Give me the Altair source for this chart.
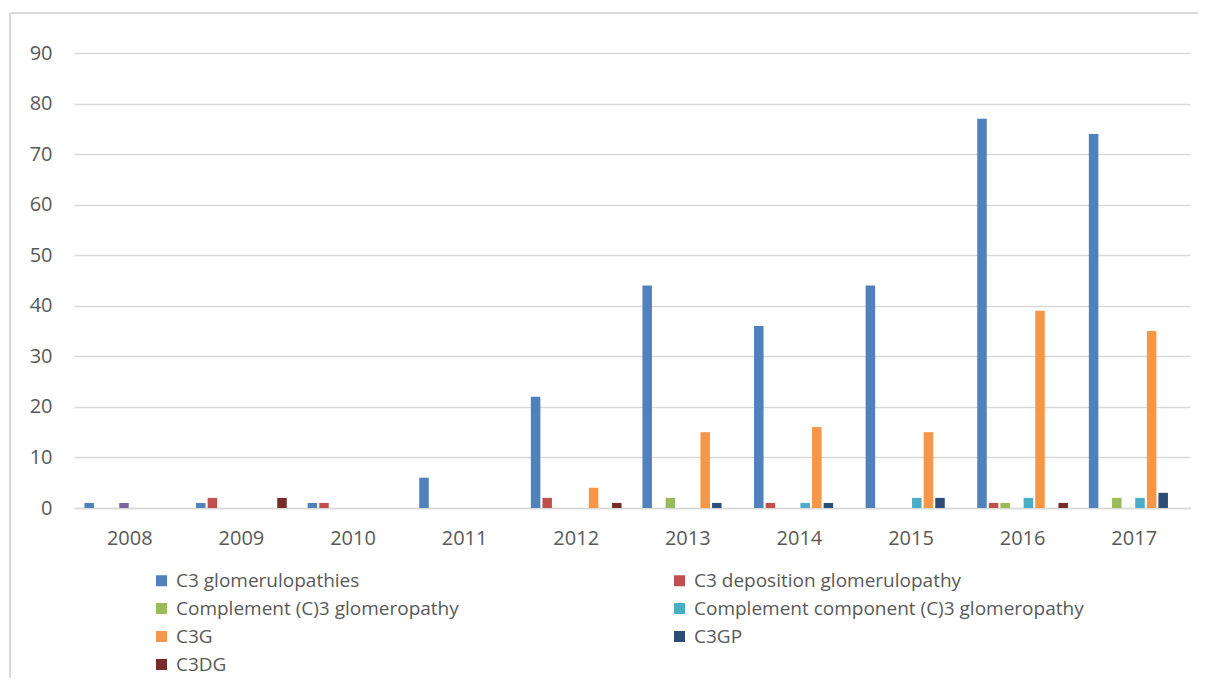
import altair as alt
import pandas as pd

years = ["2008", "2009", "2010", "2011", "2012", "2013", "2014", "2015", "2016", "2017"]

series_names = [
    "C3 glomerulopathies",
    "C3 deposition glomerulopathy",
    "Complement (C)3 glomeropathy",
    "Other",
    "Complement component (C)3 glomeropathy",
    "C3G",
    "C3GP",
    "C3DG",
]
series_colors = ["#4F81BD", "#C0504D", "#9BBB59", "#8064A2", "#4BACC6", "#F79646", "#2C4D75", "#772C2A"]

c3_glomerulopathies = [1, 1, 1, 6, 22, 44, 36, 44, 77, 74]
c3_deposition = [0, 2, 1, 0, 2, 0, 1, 0, 1, 0]
complement_c3 = [0, 0, 0, 0, 0, 2, 0, 0, 1, 2]
other = [1, 0, 0, 0, 0, 0, 0, 0, 0, 0]
complement_component_c3 = [0, 0, 0, 0, 0, 0, 1, 2, 2, 2]
c3g = [0, 0, 0, 0, 4, 15, 16, 15, 39, 35]
c3gp = [0, 0, 0, 0, 0, 1, 1, 2, 0, 3]
c3dg = [0, 2, 0, 0, 1, 0, 0, 0, 1, 0]

all_values = [c3_glomerulopathies, c3_deposition, complement_c3, other,
              complement_component_c3, c3g, c3gp, c3dg]

rows = []
for name, vals in zip(series_names, all_values):
    for y, v in zip(years, vals):
        if v > 0:
            rows.append({"year": y, "series": name, "value": v})
df = pd.DataFrame(rows)

legend_names = [n for n in series_names if n != "Other"]

FONT = "Open Sans"
TXT = "#595959"
GRID = "#D9D9D9"

bars = alt.Chart(df).mark_bar().encode(
    x=alt.X("year:N", sort=years,
            scale=alt.Scale(domain=years, paddingInner=0, paddingOuter=0),
            axis=alt.Axis(title=None, labelAngle=0, ticks=False, domainColor=GRID,
                          domainWidth=1.5, labelPadding=20, labelFontSize=20,
                          labelColor=TXT, labelFont=FONT)),
    xOffset=alt.XOffset("series:N",
                        scale=alt.Scale(domain=series_names, paddingInner=0.18, paddingOuter=0.9)),
    y=alt.Y("value:Q",
            scale=alt.Scale(domain=[0, 90], nice=False),
            axis=alt.Axis(title=None, values=list(range(0, 91, 10)), ticks=False, domain=False,
                          gridColor=GRID, gridWidth=1.5, labelPadding=22, labelFontSize=20,
                          labelColor=TXT, labelFont=FONT)),
    color=alt.Color("series:N",
                    scale=alt.Scale(domain=series_names, range=series_colors),
                    legend=alt.Legend(title=None, values=legend_names, columns=2,
                                      direction="horizontal",
                                      orient="none", legendX=78, legendY=518,
                                      symbolType="square", symbolSize=121,
                                      symbolStrokeWidth=0, labelFontSize=19,
                                      labelColor=TXT, labelFont=FONT, labelOffset=5,
                                      labelLimit=600, columnPadding=211, rowPadding=8,
                                      padding=0)),
)

border_top = alt.Chart(df).mark_rule(color=GRID, strokeWidth=1.5).encode(
    x=alt.value(-64), x2=alt.value(1300), y=alt.value(-40))
border_left = alt.Chart(df).mark_rule(color=GRID, strokeWidth=1.5).encode(
    x=alt.value(-64), y=alt.value(-40), y2=alt.value(700))

chart = alt.layer(border_top, border_left, bars).properties(
    width=1116, height=455,
    autosize=alt.AutoSizeParams(type="none"),
    padding={"left": 66, "top": 45, "right": 8, "bottom": 170},
).configure(background="white").configure_view(stroke=None)

chart.save("out.html", embed_options={"renderer": "svg", "actions": False})
